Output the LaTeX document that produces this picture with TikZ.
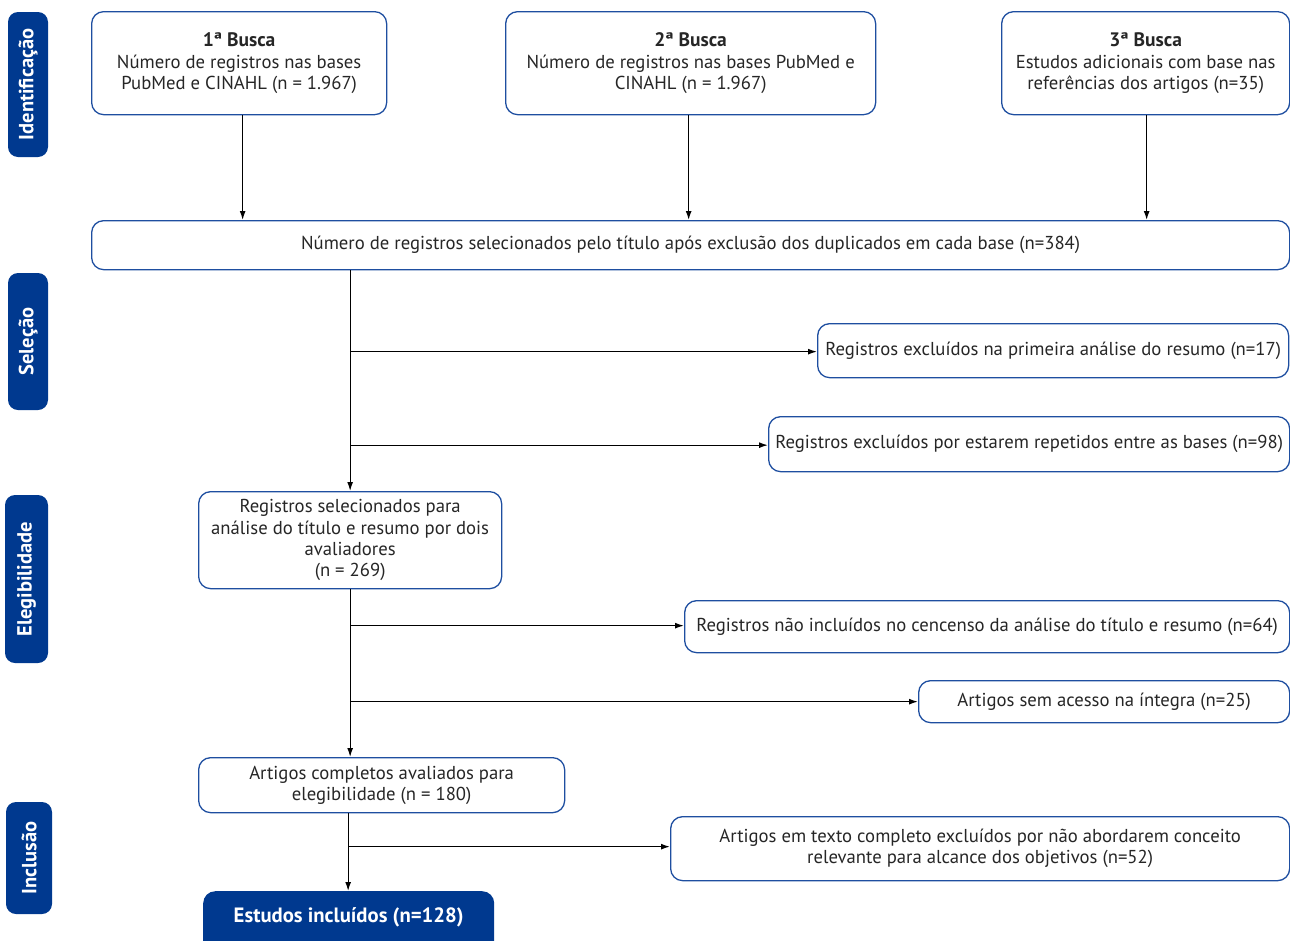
\documentclass[tikz,border=0pt]{standalone}
\usepackage{fontspec}
\setmainfont{PT Sans}
\usetikzlibrary{arrows.meta,calc}
\definecolor{blueline}{RGB}{30,78,160}
\definecolor{darkblue}{RGB}{0,57,143}
\begin{document}
\begin{tikzpicture}[x=1pt,y=-1pt,
  box/.style={draw=blueline,line width=1.3pt,rounded corners=12pt,align=center,
    inner sep=2pt,font=\fontsize{18.7}{21.3}\selectfont,text=black!85,anchor=north west},
  side/.style={fill=darkblue,rounded corners=10pt,rotate=90,text=white,
    font=\fontsize{20.5}{22}\selectfont\bfseries,inner sep=0pt},
  arr/.style={-{Latex[length=9pt,width=6pt]},line width=1.3pt,black}]
\useasboundingbox (0,0) rectangle (1290,940);
% side labels
\node[side,minimum width=145pt,minimum height=40pt] (sid) at (28,84.5) {Identificação};
\node[side,minimum width=137pt,minimum height=40pt] (sse) at (28,341.5) {Seleção};
\node[side,minimum width=168pt,minimum height=43pt] (sel) at (26.5,579) {Elegibilidade};
\node[side,minimum width=112pt,minimum height=46pt] (sin) at (29,858) {Inclusão};
% boxes
\node[box,minimum width=295pt,minimum height=103pt] (b1) at (91,11)
  {{\fontsize{19.5}{21.3}\selectfont\bfseries 1ª Busca}\\Número de registros nas bases\\PubMed e CINAHL (n = 1.967)};
\node[box,minimum width=370pt,minimum height=103pt] (b2) at (505,11)
  {{\fontsize{19.5}{21.3}\selectfont\bfseries 2ª Busca}\\Número de registros nas bases PubMed e\\CINAHL (n = 1.967)};
\node[box,minimum width=288pt,minimum height=103pt] (b3) at (1001,11)
  {{\fontsize{19.5}{21.3}\selectfont\bfseries 3ª Busca}\\Estudos adicionais com base nas\\referências dos artigos (n=35)};
\node[box,minimum width=1198pt,minimum height=49pt] (wide) at (91,220)
  {Número de registros selecionados pelo título após exclusão dos duplicados em cada base (n=384)};
\node[box,minimum width=471pt,minimum height=54pt] (ex1) at (817,323)
  {Registros excluídos na primeira análise do resumo (n=17)};
\node[box,minimum width=521pt,minimum height=55pt] (ex2) at (768,416)
  {Registros excluídos por estarem repetidos entre as bases (n=98)};
\node[box,minimum width=303pt,minimum height=97pt] (regsel) at (198,491)
  {Registros selecionados para\\análise do título e resumo por dois\\avaliadores\\(n = 269)};
\node[box,minimum width=605pt,minimum height=52pt] (ex3) at (684,600)
  {Registros não incluídos no cencenso da análise do título e resumo (n=64)};
\node[box,minimum width=371pt,minimum height=42pt] (ex4) at (918,680)
  {Artigos sem acesso na íntegra (n=25)};
\node[box,minimum width=366pt,minimum height=55pt] (art) at (198,757)
  {Artigos completos avaliados para\\elegibilidade (n = 180)};
\node[box,minimum width=619pt,minimum height=64pt] (ex5) at (670,816)
  {Artigos em texto completo excluídos por não abordarem conceito\\relevante para alcance dos objetivos (n=52)};
\node[fill=darkblue,rounded corners=12pt,minimum width=291pt,minimum height=70pt,
  anchor=north west,text=white,font=\fontsize{20.7}{22}\selectfont\bfseries,
  text depth=22pt] (fin) at (203,891) {Estudos incluídos (n=128)};
% connectors
\draw[arr] ([xshift=3.5pt]b1.south) -- ([xshift=3.5pt]b1.south |- wide.north);
\draw[arr] ([xshift=-2pt]b2.south) -- ([xshift=-2pt]b2.south |- wide.north);
\draw[arr] ([xshift=1pt]b3.south) -- ([xshift=1pt]b3.south |- wide.north);
\draw[arr] (regsel.north |- wide.south) -- (regsel.north);
\draw[arr] ([yshift=-1pt]regsel.north |- ex1.west) -- ([yshift=-1pt]ex1.west);
\draw[arr] ([yshift=-1pt]regsel.north |- ex2.west) -- ([yshift=-1pt]ex2.west);
\draw[arr] (regsel.south) -- (regsel.south |- art.north);
\draw[arr] ([yshift=1pt]regsel.south |- ex3.west) -- ([yshift=1pt]ex3.west);
\draw[arr] (regsel.south |- ex4.west) -- (ex4.west);
\draw[arr] ([xshift=-2pt]regsel.south |- art.south) -- ([xshift=-2pt]regsel.south |- fin.north);
\draw[arr] ([xshift=-2pt,yshift=2pt]regsel.south |- ex5.west) -- ([yshift=2pt]ex5.west);
\end{tikzpicture}
\end{document}
